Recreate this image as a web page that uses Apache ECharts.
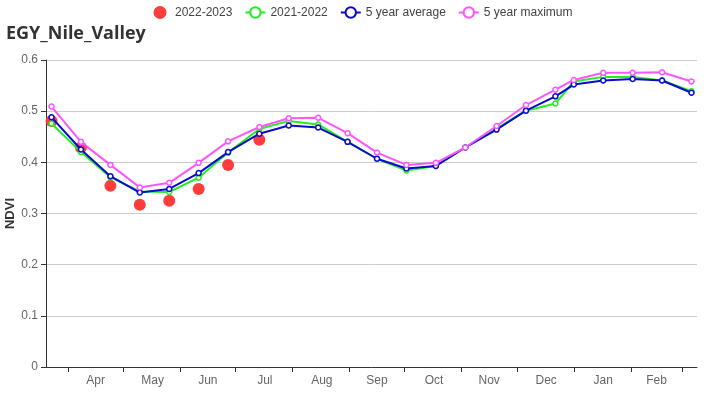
<!DOCTYPE html>
<html>
<head>
<meta charset="utf-8">
<script src="https://cdn.jsdelivr.net/npm/echarts@6/dist/echarts.min.js"></script>
<style>html,body{margin:0;padding:0;background:#fff}#c{width:726px;height:400px}</style>
</head>
<body>
<div id="c"></div>
<script>
const titleText = 'EGY_Nile_Valley';
const seriesNames = ['2022-2023', '2021-2022', '5 year average', '5 year maximum'];
const dates = ['2022-03-23','2022-04-08','2022-04-24','2022-05-10','2022-05-26','2022-06-11','2022-06-27',
  '2022-07-14','2022-07-30','2022-08-15','2022-08-31','2022-09-16','2022-10-02','2022-10-18','2022-11-03',
  '2022-11-20','2022-12-06','2022-12-22','2023-01-01','2023-01-17','2023-02-02','2023-02-18','2023-03-06'];
const cur = [0.481,0.429,0.354,0.317,0.325,0.348,0.395,0.444];
const prev = [0.476,0.420,0.371,0.343,0.342,0.370,0.419,0.465,0.481,0.474,0.440,0.407,0.384,0.393,0.429,0.466,0.501,0.515,0.558,0.567,0.567,0.560,0.539];
const avg = [0.488,0.425,0.373,0.341,0.348,0.379,0.420,0.456,0.472,0.468,0.440,0.407,0.388,0.393,0.429,0.464,0.501,0.529,0.552,0.560,0.563,0.560,0.536];
const maxv = [0.509,0.440,0.395,0.351,0.360,0.399,0.441,0.469,0.486,0.487,0.457,0.419,0.395,0.399,0.429,0.471,0.512,0.542,0.561,0.575,0.575,0.576,0.558];
const monthTicks = ['2022-04-01','2022-05-01','2022-06-01','2022-07-01','2022-08-01','2022-09-01','2022-10-01','2022-11-01','2022-12-01','2023-01-01','2023-02-01','2023-03-01'];
const monthLabelDates = ['2022-04-16','2022-05-17','2022-06-16','2022-07-17','2022-08-17','2022-09-16','2022-10-17','2022-11-16','2022-12-17','2023-01-17','2023-02-15'];
const monthNames = ['Apr','May','Jun','Jul','Aug','Sep','Oct','Nov','Dec','Jan','Feb'];
const axisMin = '2022-03-20', axisMax = '2023-03-09';

const DAY = 86400000;
function dayNum(s){ const p = s.split('-').map(Number); return Math.round(Date.UTC(p[0], p[1]-1, p[2]) / DAY); }
const labelDays = monthLabelDates.map(dayNum);
function pairs(vals){ return vals.map((v,i)=>[dayNum(dates[i]), v]); }

const chart = echarts.init(document.getElementById('c'));
chart.setOption({
  animation: false,
  backgroundColor: '#fff',
  title: { text: titleText, left: 1, top: 20, textStyle: { fontSize: 18, fontWeight: 'bold', color: '#333', fontFamily: 'Open Sans' } },
  legend: {
    top: 1, left: 'center', itemGap: 12, itemWidth: 20, itemHeight: 13,
    textStyle: { fontSize: 12, color: '#444' },
    data: [
      { name: seriesNames[0], icon: 'circle' },
      seriesNames[1], seriesNames[2], seriesNames[3]
    ]
  },
  grid: { left: 46, right: 29, top: 60, bottom: 33, outerBoundsMode: 'none', containLabel: false },
  xAxis: {
    type: 'value', min: dayNum(axisMin), max: dayNum(axisMax),
    axisLine: { lineStyle: { color: '#333' } },
    axisTick: { show: true, customValues: monthTicks.map(dayNum), lineStyle: { color: '#333' } },
    axisLabel: {
      customValues: labelDays, color: '#666', fontSize: 12,
      formatter: function(v){ const i = labelDays.indexOf(Math.round(v)); return i >= 0 ? monthNames[i] : ''; }
    },
    splitLine: { show: false }
  },
  yAxis: {
    type: 'value', min: 0, max: 0.6, interval: 0.1,
    name: 'NDVI', nameLocation: 'middle', nameGap: 29, nameMoveOverlap: false,
    nameTextStyle: { fontWeight: 'bold', fontSize: 13, color: '#333' },
    axisLine: { show: true, lineStyle: { color: '#333' } },
    axisTick: { show: true, lineStyle: { color: '#333' } },
    axisLabel: { color: '#666', fontSize: 12 },
    splitLine: { lineStyle: { color: '#ccc' } }
  },
  series: [
    { name: seriesNames[0], type: 'scatter', data: pairs(cur), symbolSize: 12, z: 1,
      itemStyle: { color: '#ff3c3c', opacity: 1 } },
    { name: seriesNames[1], type: 'line', data: pairs(prev), symbol: 'circle', symbolSize: 5, z: 2,
      lineStyle: { color: '#22ee22', width: 2 }, itemStyle: { color: '#fff', borderColor: '#22ee22', borderWidth: 1.5 } },
    { name: seriesNames[2], type: 'line', data: pairs(avg), symbol: 'circle', symbolSize: 5, z: 3,
      lineStyle: { color: '#0a0acc', width: 2 }, itemStyle: { color: '#fff', borderColor: '#0a0acc', borderWidth: 1.5 } },
    { name: seriesNames[3], type: 'line', data: pairs(maxv), symbol: 'circle', symbolSize: 5, z: 4,
      lineStyle: { color: '#ff55ff', width: 2 }, itemStyle: { color: '#fff', borderColor: '#ff55ff', borderWidth: 1.5 } }
  ]
});
</script>
</body>
</html>
